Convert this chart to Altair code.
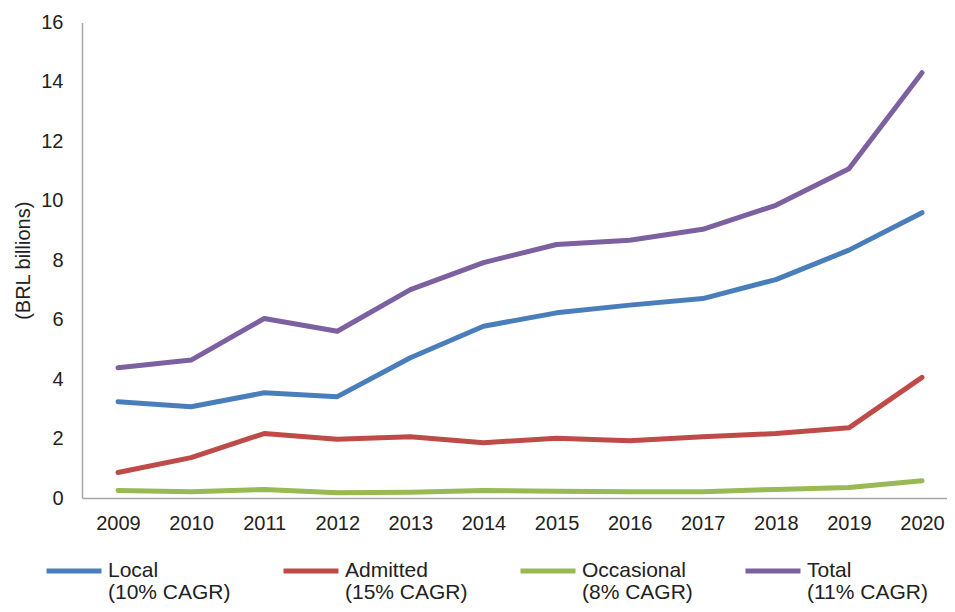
import altair as alt
import pandas as pd

years = list(range(2009, 2021))
local = [3.24, 3.07, 3.54, 3.41, 4.72, 5.78, 6.23, 6.49, 6.71, 7.35, 8.34, 9.60]
admitted = [0.86, 1.36, 2.17, 1.98, 2.06, 1.86, 2.01, 1.93, 2.06, 2.17, 2.36, 4.06]
occasional = [0.25, 0.21, 0.29, 0.18, 0.19, 0.25, 0.23, 0.21, 0.21, 0.29, 0.35, 0.58]
total = [4.38, 4.64, 6.04, 5.61, 7.01, 7.92, 8.53, 8.67, 9.04, 9.85, 11.08, 14.31]

series_names = ["Local|(10% CAGR)", "Admitted|(15% CAGR)", "Occasional|(8% CAGR)", "Total|(11% CAGR)"]
series_values = [local, admitted, occasional, total]
colors = ["#4A7EBB", "#BE4B48", "#98B954", "#7D60A0"]

rows = []
for name, vals in zip(series_names, series_values):
    for y, v in zip(years, vals):
        rows.append({"year": y, "value": v, "series": name})
df = pd.DataFrame(rows)

font = "Liberation Sans"
text_color = "#222222"

chart = alt.Chart(df).mark_line(strokeWidth=5, strokeCap="round", strokeJoin="round").encode(
    x=alt.X("year:Q",
            scale=alt.Scale(domain=[2008.5075, 2020.342], nice=False, zero=False),
            axis=alt.Axis(values=years, format="d", title=None, grid=False, ticks=False,
                          tickSize=0, labelPadding=15, labelFontSize=20, labelFont=font,
                          labelColor=text_color, domainColor="#A6A6A6", domainWidth=1.5,
                          labelFlush=False)),
    y=alt.Y("value:Q",
            scale=alt.Scale(domain=[0, 16], nice=False),
            axis=alt.Axis(values=list(range(0, 17, 2)), title="(BRL billions)", grid=False,
                          ticks=False, tickSize=0, labelPadding=19, labelFontSize=20,
                          labelFont=font, labelColor=text_color, domainColor="#A6A6A6",
                          domainWidth=1.5, titleFont=font, titleFontSize=20,
                          titleFontWeight="normal", titleColor=text_color,
                          titleX=-59, titleY=237.75, titleAngle=-90,
                          titleAlign="center", titleBaseline="middle")),
    color=alt.Color("series:N",
                    scale=alt.Scale(domain=series_names, range=colors),
                    legend=alt.Legend(title=None, orient="none", legendX=-38, legendY=518.5,
                                      direction="horizontal", columns=4, gridAlign="each",
                                      columnPadding=42, padding=0,
                                      symbolType="M-1,0H1", symbolSize=3025,
                                      symbolStrokeWidth=5, symbolFillColor="transparent",
                                      labelExpr="split(datum.label, '|')",
                                      labelFont=font,
                                      labelFontSize=21, labelColor=text_color,
                                      labelBaseline="middle",
                                      labelOffset=4, labelLimit=0)),
).properties(
    width=865, height=475.5,
    padding={"left": 74, "top": 14.5, "right": 0, "bottom": 106},
    autosize=alt.AutoSizeParams(type="none"),
).configure(
    view={"strokeWidth": 0},
    style={"guide-label": {"lineHeight": 22}},
)

chart.save("out.html", embed_options={"renderer": "svg", "actions": False})
